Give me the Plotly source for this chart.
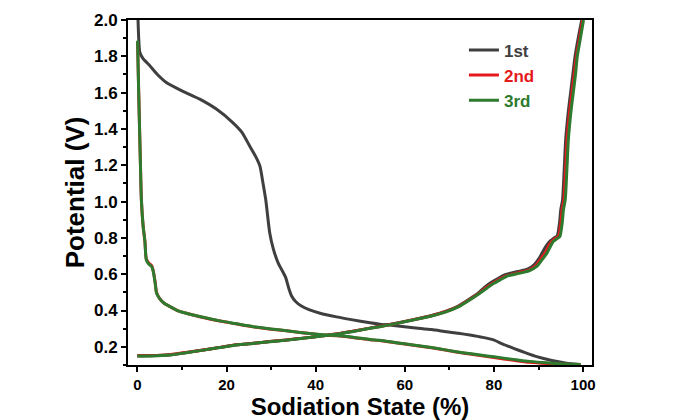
import plotly.graph_objects as go

# ---- data ----
c1_dis_x = [0.15, 0.3, 0.54, 1.2, 2.8, 4.5, 6.5, 10, 14, 17.8, 21.4, 23.5, 25.2, 26.5, 27.5, 28.2, 28.8, 29.7,
            30.5, 31.6, 32.6, 33.3, 34.0, 34.6, 35.5, 36.8, 38.5, 41, 44.7, 48, 52.2, 54.4, 58, 61.9, 66, 69.4,
            72, 74.6, 77.5, 79.9, 82, 84.4, 87, 89.6, 93, 96.3, 99.3]
c1_dis_y = [2.0, 1.9, 1.823, 1.79, 1.748, 1.70, 1.656, 1.61, 1.564, 1.508, 1.435, 1.38, 1.306, 1.25, 1.195, 1.10,
            1.011, 0.827, 0.74, 0.661, 0.615, 0.58, 0.52, 0.48, 0.45, 0.425, 0.405, 0.385, 0.365, 0.35, 0.333,
            0.325, 0.316, 0.305, 0.295, 0.283, 0.275, 0.265, 0.252, 0.238, 0.215, 0.192, 0.168, 0.146, 0.125,
            0.11, 0.103]

c1_chg_x = [0, 3, 7.3, 11, 14.8, 18.5, 22.2, 26, 29.7, 33.5, 37.2, 41, 44.7, 48.4, 52.2, 54.4, 58, 61.9, 66,
            69.4, 72, 74.6, 76.5, 78, 79.5, 81, 82.5, 85.3, 87.5, 89.0, 90.2, 91.2, 92.0, 92.7, 93.5, 94.2, 94.7,
            95.0, 95.4, 96.1, 96.7, 97.2, 97.7, 98.2, 98.9, 99.7]
c1_chg_y = [0.15, 0.151, 0.156, 0.169, 0.183, 0.197, 0.211, 0.22, 0.229, 0.238, 0.248, 0.259, 0.271, 0.286,
            0.303, 0.313, 0.33, 0.35, 0.373, 0.398, 0.425, 0.465, 0.497, 0.53, 0.557, 0.578, 0.597, 0.615,
            0.628, 0.652, 0.69, 0.735, 0.765, 0.785, 0.8, 0.812, 0.88, 0.956, 1.011, 1.343, 1.5, 1.6, 1.7, 1.8,
            1.9, 2.0]

c2_dis_x = [0.05, 0.3, 0.7, 0.9, 1.3, 1.7, 2.0, 2.6, 3.2, 3.6, 4.0, 4.3, 5.0, 6.0, 7.3, 9, 11, 14, 18.5, 22, 26,
            30, 33.5, 37, 41, 44.7, 48.4, 52.2, 54.4, 58, 61.9, 66, 69.4, 73, 76.9, 80, 84.4, 88, 91.9, 96, 99.5]
c2_dis_y = [1.88, 1.6, 1.195, 1.011, 0.864, 0.78, 0.685, 0.66, 0.648, 0.615, 0.555, 0.5, 0.466, 0.44, 0.422,
            0.40, 0.385, 0.366, 0.342, 0.327, 0.31, 0.297, 0.288, 0.277, 0.267, 0.261, 0.252, 0.239, 0.235,
            0.222, 0.209, 0.195, 0.181, 0.166, 0.152, 0.141, 0.126, 0.115, 0.108, 0.104, 0.101]

c2_chg_x = [0, 3, 7.3, 11, 14.8, 18.5, 22.2, 26, 29.7, 33.5, 37.2, 41, 44.7, 48.4, 52.2, 54.4, 58, 61.9, 66,
            69.4, 72, 74.6, 76.5, 78.2, 79.8, 81.2, 82.8, 85.6, 87.8, 89.3, 90.5, 91.6, 92.3, 93.0, 93.8, 94.5,
            95.0, 95.3, 95.7, 96.4, 97.0, 97.5, 98.0, 98.5, 99.2, 99.9]
c2_chg_y = [0.152, 0.152, 0.157, 0.169, 0.183, 0.197, 0.211, 0.22, 0.229, 0.238, 0.248, 0.259, 0.271, 0.286,
            0.303, 0.312, 0.329, 0.349, 0.371, 0.396, 0.422, 0.461, 0.492, 0.525, 0.552, 0.572, 0.592, 0.609,
            0.623, 0.646, 0.684, 0.722, 0.758, 0.782, 0.798, 0.81, 0.88, 0.956, 1.011, 1.343, 1.5, 1.6, 1.7,
            1.8, 1.9, 2.0]

c3_dis_x = [0.05, 0.3, 0.7, 0.9, 1.3, 1.7, 2.0, 2.6, 3.2, 3.6, 4.0, 4.3, 5.0, 6.0, 7.3, 9, 11, 14, 18.5, 22, 26,
            30, 33.5, 37, 41, 44.7, 48.4, 52.2, 54.4, 58, 61.9, 66, 69.4, 73, 76.9, 80, 84.4, 88, 91.9, 96, 99.5]
c3_dis_y = [1.886, 1.6, 1.195, 1.011, 0.864, 0.78, 0.68, 0.655, 0.643, 0.61, 0.55, 0.496, 0.465, 0.44, 0.422,
            0.40, 0.385, 0.367, 0.343, 0.328, 0.311, 0.298, 0.289, 0.278, 0.268, 0.262, 0.253, 0.240, 0.236,
            0.223, 0.21, 0.196, 0.182, 0.168, 0.155, 0.145, 0.131, 0.12, 0.112, 0.106, 0.102]

c3_chg_x = [0, 3, 7.3, 11, 14.8, 18.5, 22.2, 26, 29.7, 33.5, 37.2, 41, 44.7, 48.4, 52.2, 54.4, 58, 61.9, 66,
            69.4, 72, 74.6, 76.5, 78.4, 80, 81.4, 83, 85.9, 88, 89.6, 90.8, 91.9, 92.6, 93.3, 94.1, 94.8, 95.3,
            95.6, 96.0, 96.7, 97.3, 97.8, 98.3, 98.7, 99.4, 100.1]
c3_chg_y = [0.149, 0.15, 0.155, 0.168, 0.182, 0.196, 0.21, 0.219, 0.228, 0.237, 0.247, 0.258, 0.27, 0.285,
            0.302, 0.311, 0.328, 0.348, 0.37, 0.394, 0.42, 0.459, 0.49, 0.523, 0.55, 0.569, 0.59, 0.606, 0.62,
            0.643, 0.68, 0.716, 0.75, 0.78, 0.795, 0.808, 0.88, 0.956, 1.011, 1.343, 1.5, 1.6, 1.7, 1.8, 1.9,
            2.0]

series_names = ["1st", "2nd", "3rd"]
series_colors = ["#3f3f3f", "#e41a1c", "#2e7a2e"]
y_tick_vals = [0.2, 0.4, 0.6, 0.8, 1.0, 1.2, 1.4, 1.6, 1.8, 2.0]
x_tick_vals = [0, 20, 40, 60, 80, 100]

cycles = [
    (c1_dis_x, c1_dis_y, c1_chg_x, c1_chg_y),
    (c2_dis_x, c2_dis_y, c2_chg_x, c2_chg_y),
    (c3_dis_x, c3_dis_y, c3_chg_x, c3_chg_y),
]

FONT = "Liberation Sans, Arial, sans-serif"

fig = go.Figure()
for (dx, dy, cx, cy), name, col in zip(cycles, series_names, series_colors):
    label = f"<span style='color:{col}'>{name}</span>"
    fig.add_trace(go.Scatter(x=dx, y=dy, mode="lines", name=label, legendgroup=name,
                             line=dict(color=col, width=3, shape="spline", smoothing=0.6)))
    fig.add_trace(go.Scatter(x=cx, y=cy, mode="lines", name=label, legendgroup=name, showlegend=False,
                             line=dict(color=col, width=3, shape="spline", smoothing=0.6)))

# the page body adds an 8 px offset, so the figure is 8 px smaller and margins shifted
fig.update_layout(
    width=665, height=412,
    margin=dict(l=120, r=81, t=12, b=55, autoexpand=False),
    paper_bgcolor="white", plot_bgcolor="white",
    font=dict(family=FONT, color="black"),
    showlegend=True,
    legend=dict(x=0.724, y=0.964, xanchor="left", yanchor="top", bgcolor="rgba(0,0,0,0)",
                font=dict(family=FONT, size=17, color="black", weight="bold"),
                itemwidth=30, tracegroupgap=0),
    xaxis=dict(range=[-2.1, 102], tickvals=x_tick_vals, ticks="outside", ticklen=5, tickwidth=1.5,
               tickcolor="black", showline=True, linecolor="black", linewidth=2, mirror=True,
               showgrid=False, zeroline=False, automargin=False,
               tickfont=dict(family=FONT, size=15, color="black", weight="bold"),
               minor=dict(dtick=10, tick0=0, ticks="outside", ticklen=3, tickwidth=1.5, tickcolor="black"),
               title=dict(text="Sodiation State (%)", standoff=6,
                          font=dict(family=FONT, size=24, color="black", weight="bold"))),
    yaxis=dict(range=[0.1, 2.0], tickvals=y_tick_vals, tickformat=".1f", ticks="outside", ticklen=5,
               tickwidth=1.5, tickcolor="black", showline=True, linecolor="black", linewidth=2, mirror=True,
               showgrid=False, zeroline=False, automargin=False,
               tickfont=dict(family=FONT, size=17, color="black", weight="bold"),
               minor=dict(dtick=0.1, tick0=0, ticks="outside", ticklen=3, tickwidth=1.5, tickcolor="black"),
               title=dict(text="Potential (V)", standoff=2,
                          font=dict(family=FONT, size=26, color="black", weight="bold"))),
)

fig.write_html("out.html")
